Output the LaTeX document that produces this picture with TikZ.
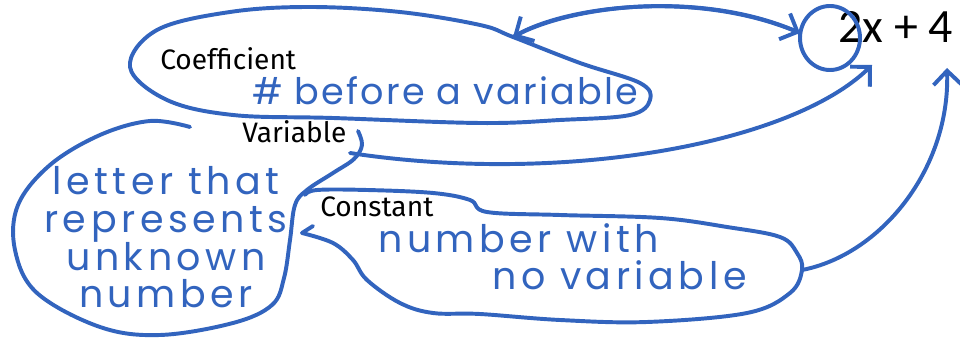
\documentclass[tikz,border=0pt]{standalone}
\usepackage{fontspec}
\usetikzlibrary{arrows.meta}
\newfontfamily\labelfont{Fira Sans}
\newfontfamily\handfont{Poppins}[LetterSpace=12]
\newfontfamily\handtight{Poppins}[LetterSpace=6]
\newfontfamily\exprfont{Carlito}
\definecolor{penblue}{RGB}{50,100,190}
\tikzset{
  pen/.style={draw=penblue, line width=2.8pt, line cap=round, line join=round},
  barb/.style={-{Straight Barb[length=3.5mm,width=7mm]}},
  termlabel/.style={inner sep=0pt, anchor=base west, font=\labelfont\fontsize{20}{24}\selectfont},
  handnote/.style={inner sep=0pt, text=penblue, font=\handfont\fontsize{27}{27}\selectfont}
}
\begin{document}
\begin{tikzpicture}[x=0.025cm, y=-0.025cm]
	\useasboundingbox (0,0) rectangle (960,339);
	
	% Expression
	\node[inner sep=0pt, anchor=base west, font=\exprfont\fontsize{34}{40}\selectfont] (expr) at (838,43) {2x + 4};
	\coordinate (two) at (830,38);
	\coordinate (twoL) at (800,33);
	\coordinate (xBelow) at (872,65);
	\coordinate (fourBelow) at (947,68);
	\draw[pen] (two) ellipse (30 and 32);
	
	% Terms
	\node[termlabel] (coef) at (160,70) {Coefficient};
	\node[termlabel] (var) at (242,143) {Variable};
	\node[termlabel] (const) at (320,217) {Constant};
	
	% Handwritten meanings (base = last line)
	\node[handnote, anchor=base west, font=\handtight\fontsize{26}{26}\selectfont] (coefdef) at (252,105) {\# before a variable};
	\node[handnote, align=center, anchor=base] (vardef) at (166,308) {letter that\\represents\\unknown\\number};
	\node[handnote, align=left, anchor=base west] (constdef) at (378,290) {number with\\\hspace*{81pt}no variable};
	
	% Loops round the terms
	\coordinate (coefTop) at (513,37);
	\draw[pen] plot[smooth cycle, tension=0.6] coordinates {(130,67) (157,30) (230,12) (310,7) (400,12) (480,25) (coefTop) (580,63) (640,83) (650,100) (630,115) (560,120) (480,123) (333,118) (233,115) (167,100)};
	\coordinate (varHook) at (358,131);
	\draw[pen] plot[smooth, tension=0.6] coordinates {(190,127) (150,121) (100,135) (50,165) (18,205) (15,250) (37,293) (100,327) (160,335) (233,323) (272,305) (284,278) (290,240) (295,205) (307,190) (333,173) (354,159) (362,145) (varHook)};
	\coordinate (constTip) at (302,233);
	\coordinate (constR) at (802,270);
	\draw[pen] (313,226) -- (constTip);
	\draw[pen] plot[smooth, tension=0.6] coordinates {(constTip) (333,243) (353,260) (367,280) (400,303) (433,313) (480,314) (560,320) (647,322) (747,313) (790,293) (constR) (797,253) (780,237) (727,227) (660,218) (560,215) (487,212) (470,200) (433,193) (367,190) (317,190) (305,195)};
	
	% Arrows to the expression
	\draw[pen, barb] (coefTop) .. controls (570,5) and (700,-10) .. (twoL);
	\draw[pen, barb] (twoL) .. controls (700,-10) and (570,5) .. (coefTop);
	\coordinate (varOut) at (350,153);
	\draw[pen, barb] (varOut) .. controls (560,185) and (790,145) .. (xBelow);
	\draw[pen, barb] (constR) .. controls (880,255) and (950,170) .. (fourBelow);
\end{tikzpicture}
\end{document}
